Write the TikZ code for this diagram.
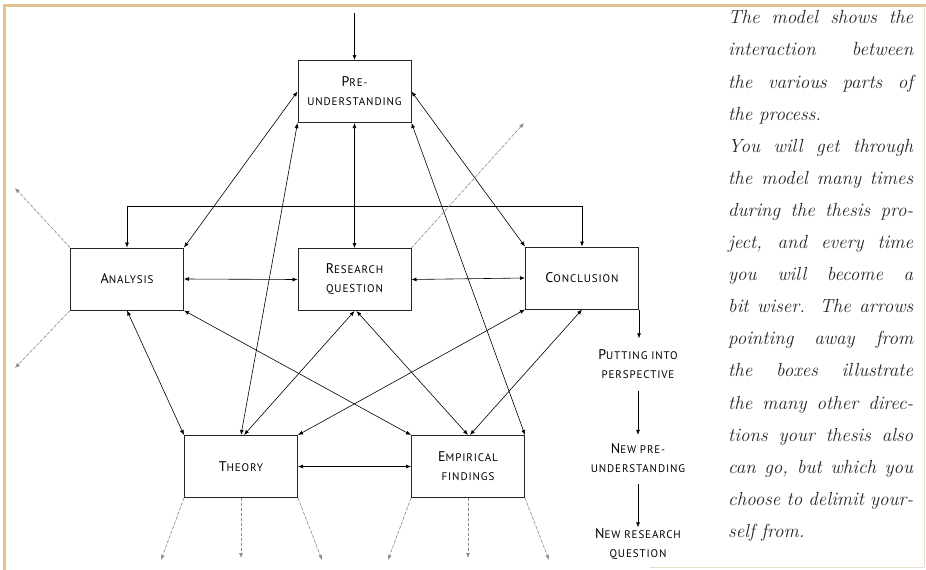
\documentclass[tikz,border=0pt]{standalone}
\usepackage{fontspec}
\usetikzlibrary{arrows.meta,calc}
\newfontfamily\labelfont[LetterSpace=8]{PT Sans}
\definecolor{frameA}{HTML}{E2C492}
\definecolor{frameB}{HTML}{E9DDCB}
\definecolor{awaygray}{HTML}{8C8C8C}
\newcommand{\BG}[1]{{\fontsize{14}{19}\selectfont #1}}
\begin{document}
\begin{tikzpicture}[x=1pt,y=-1pt,
  tip/.tip={Latex[length=5pt,width=4pt]},
  box/.style={draw=black!85, line width=1pt, minimum width=113pt, minimum height=62pt,
    inner sep=0pt, align=center, font=\labelfont\fontsize{11}{19}\selectfont},
  lbl/.style={inner sep=0pt, align=center, font=\labelfont\fontsize{11}{19}\selectfont},
  biarrow/.style={line width=0.6pt, tip-tip},
  oneway/.style={line width=0.6pt, -tip},
  away/.style={draw=awaygray, dash pattern=on 3pt off 2pt, line width=0.6pt, -{Latex[length=5pt,width=4pt]}, fill=awaygray}]
\useasboundingbox (0,0) rectangle (926,570);
% frame
\fill[frameA] (3,4) rectangle (926,7);
\fill[frameA] (3,4) rectangle (6,570);
\draw[frameB, line width=1pt] (924,6) -- (924,567);
\draw[frameB, line width=1pt] (650,567) -- (924,567);

% boxes
\node[box] (pre)  at (354.5,91.5) {\BG{P}RE-\\UNDERSTANDING};
\node[box] (ana)  at (127,279) {\BG{A}NALYSIS};
\node[box] (rq)   at (354.5,279.5) {\BG{R}ESEARCH\\QUESTION};
\node[box] (conc) at (582,278) {\BG{C}ONCLUSION};
\node[box] (theo) at (241,466.5) {\BG{T}HEORY};
\node[box] (emp)  at (468,466.5) {\BG{E}MPIRICAL\\FINDINGS};

% side labels
\node[lbl] (put)    at (638,364) {\BG{P}UTTING INTO\\PERSPECTIVE};
\node[lbl] (newpre) at (638,458.5) {\BG{N}EW PRE-\\UNDERSTANDING};
\node[lbl] (newrq)  at (638,544) {\BG{N}EW RESEARCH\\QUESTION};

% incoming arrow
\coordinate (topin) at (354.5,13);
\draw[oneway] (topin) -- (pre.north);

% connectors
\draw[biarrow] (pre.west) -- (ana.north east);
\draw[biarrow] (pre.south west) -- (theo.north);
\draw[biarrow] (pre.south) -- (rq.north);
\draw[biarrow] (pre.south east) -- (emp.north east);
\draw[biarrow] (pre.east) -- (conc.north west);
\draw[biarrow] (ana.east) -- (rq.west);
\draw[biarrow] (rq.east) -- (conc.west);
\draw[biarrow] (ana.north) -- ++(0,-41) -| (conc.north);
\draw[biarrow] (ana.south) -- (theo.north west);
\draw[biarrow] (ana.south east) -- (emp.north west);
\draw[biarrow] (rq.south) -- ([xshift=3pt]theo.north);
\draw[biarrow] ([xshift=2pt]rq.south) -- (emp.north);
\draw[biarrow] (conc.south west) -- (theo.north east);
\draw[biarrow] (conc.south) -- ([xshift=2pt]emp.north);
\draw[biarrow] (theo.east) -- (emp.west);

% right-hand chain
\draw[oneway, shorten >=11pt] (conc.south east) -- (conc.south east |- put.north);
\draw[oneway, shorten <=12pt, shorten >=9pt] (put.south) -- (newpre.north);
\draw[oneway, shorten <=11pt, shorten >=1pt] (newpre.south) -- (newrq.north);

% arrows pointing away
\coordinate (a1) at (15,188);
\coordinate (a2) at (15,368);
\coordinate (a3) at (524,123);
\coordinate (t1) at (161,560);
\coordinate (t2) at (241,558);
\coordinate (t3) at (322,560);
\coordinate (e1) at (388,560);
\coordinate (e2) at (468,558);
\coordinate (e3) at (549,560);
\draw[away] (ana.north west) -- (a1);
\draw[away] (ana.south west) -- (a2);
\draw[away] (rq.north east) -- (a3);
\draw[away] (theo.south west) -- (t1);
\draw[away] (theo.south) -- (t2);
\draw[away] (theo.south east) -- (t3);
\draw[away] (emp.south west) -- (e1);
\draw[away] (emp.south) -- (e2);
\draw[away] (emp.south east) -- (e3);

% explanatory text
\node[anchor=north west, inner sep=0pt, text width=185pt, align=justify,
      font=\itshape\fontsize{19}{32.1}\selectfont, text=black!85] (expl) at (728,10.5)
{The model shows the\linebreak
interaction between\linebreak
the various parts of\linebreak
the process.\par
You will get through\linebreak
the model many times\linebreak
during the thesis pro-\linebreak
ject, and every time\linebreak
you will become a\linebreak
bit wiser. The arrows\linebreak
pointing away from\linebreak
the boxes illustrate\linebreak
the many other direc-\linebreak
tions your thesis also\linebreak
can go, but which you\linebreak
choose to delimit your-\linebreak
self from.};
\end{tikzpicture}
\end{document}
